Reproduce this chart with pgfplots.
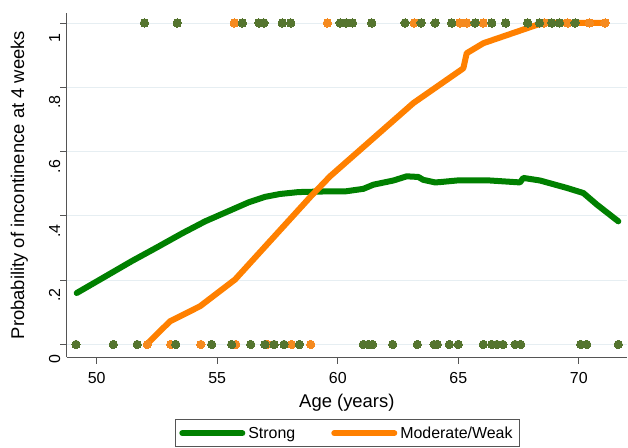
\documentclass[border=0pt]{standalone}
\usepackage{fontspec}
\setmainfont{Liberation Sans}
\usepackage{pgfplots}
\pgfplotsset{compat=1.18}
\definecolor{lgreen}{HTML}{008000}
\definecolor{lorange}{HTML}{FF8000}
\definecolor{dgreen}{HTML}{55752F}
\definecolor{dorange}{HTML}{F58A1F}
\definecolor{gridc}{HTML}{E6EEF2}
\definecolor{axc}{HTML}{555555}
\begin{document}
\begin{tikzpicture}
\begin{axis}[
  scale only axis, width=560.3bp, height=344bp,
  xmin=48.755, xmax=72.0, ymin=-0.039, ymax=1.031,
  axis x line*=bottom, axis y line*=left,
  axis line style={axc, line width=0.9bp, -},
  tick style={axc, line width=0.9bp}, tick align=outside, major tick length=6.5bp,
  xtick={50,55,60,65,70}, xticklabels={50,55,60,65,70},
  ytick={0,0.2,0.4,0.6,0.8,1}, yticklabels={0,.2,.4,.6,.8,1},
  ymajorgrids, major grid style={gridc, line width=0.9bp},
  tick label style={font=\fontsize{16}{19}\selectfont, text=black},
  xticklabel style={anchor=base, inner sep=0pt, yshift=-19.5bp},
  yticklabel style={rotate=90, anchor=base, inner sep=0pt, xshift=-15bp},
  xlabel={Age (years)}, ylabel={Probability of incontinence at 4 weeks},
  label style={font=\fontsize{18.5}{22}\selectfont},
  xlabel style={at={(axis description cs:0.5,-0.148)}, anchor=base, inner sep=0pt},
  ylabel style={at={(axis description cs:-0.0762,0.5)}, anchor=base, inner sep=0pt},
  legend columns=2,
  legend style={at={(axis description cs:0.501,-0.181)}, anchor=north,
    draw=axc, line width=0.8bp, font=\fontsize{16}{19}\selectfont,
    inner xsep=4bp, inner ysep=5bp,
    /tikz/every even column/.append style={column sep=33bp},
    nodes={inner xsep=3bp, inner ysep=2bp}},
  legend image code/.code={\draw[#1] (0bp,0bp) -- (60bp,0bp);},
  clip=false,
]
\addplot[lgreen, line width=6bp, line join=round, line cap=round] coordinates {
(49.17,0.160) (50.3,0.209) (51.45,0.259) (52.5,0.302) (53.53,0.345) (54.5,0.383)
(55.60,0.419) (56.3,0.442) (56.98,0.459) (57.6,0.468) (58.37,0.474) (59.5,0.476)
(60.30,0.476) (61.06,0.484) (61.48,0.497) (62.31,0.510) (62.86,0.523) (63.34,0.521)
(63.55,0.512) (64.04,0.504) (64.24,0.505) (64.94,0.510) (66.32,0.510) (67.56,0.504)
(67.70,0.518) (68.39,0.510) (69.50,0.487) (70.19,0.471) (70.75,0.435) (71.64,0.383)
};
\addlegendentry{Strong}
\addplot[lorange, line width=6bp, line join=round, line cap=round] coordinates {
(52.07,0.0) (53.04,0.072) (54.29,0.119) (55.74,0.202) (58.9,0.462) (59.68,0.523)
(63.14,0.751) (65.21,0.859) (65.35,0.906) (66.04,0.937) (68.26,0.994) (68.67,1.0) (71.09,1.0)
};
\addlegendentry{Moderate/Weak}
\addplot[forget plot, only marks, mark=*, mark size=4.2bp, mark options={draw=dorange, fill=dorange, line width=0pt}] coordinates {
(55.71,1) (59.57,1) (63.17,1) (65.07,1) (65.35,1) (66.04,1) (68.56,1) (69.54,1) (70.44,1) (71.09,1)
(52.10,0) (53.07,0) (54.32,0) (55.77,0) (57.08,0) (58.09,0) (58.88,0)
};
\addplot[forget plot, only marks, mark=*, mark size=4.2bp, mark options={draw=dgreen, fill=dgreen, line width=0pt}] coordinates {
(51.98,1) (53.34,1) (56.04,1) (56.73,1) (56.94,1) (57.70,1) (58.05,1) (60.10,1) (60.35,1) (60.61,1)
(61.41,1) (62.79,1) (63.46,1) (64.04,1) (64.73,1) (65.70,1) (66.39,1) (66.97,1) (67.88,1) (68.37,1)
(68.88,1) (69.20,1) (69.85,1)
(49.14,0) (50.69,0) (51.68,0) (53.28,0) (54.77,0) (55.60,0) (56.39,0) (56.98,0) (57.36,0) (57.77,0)
(58.41,0) (61.06,0) (61.27,0) (61.44,0) (62.28,0) (63.30,0) (64.00,0) (64.13,0) (64.63,0) (65.00,0)
(66.04,0) (66.39,0) (66.60,0) (66.85,0) (67.36,0) (67.59,0) (70.08,0) (70.33,0) (71.64,0)
};
\end{axis}
\pgfresetboundingbox
\path[use as bounding box] (-66.7bp,-91bp) rectangle (561.3bp,357bp);
\end{tikzpicture}
\end{document}
